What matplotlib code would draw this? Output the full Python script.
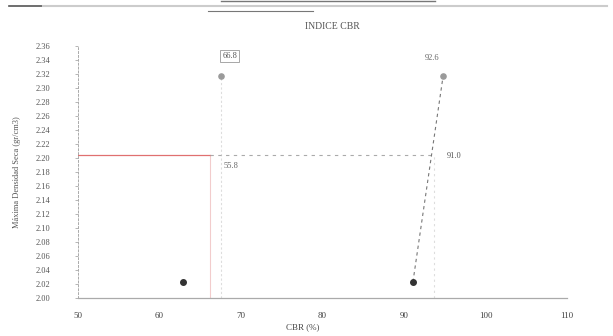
import matplotlib
matplotlib.use("Agg")
import matplotlib.pyplot as plt
import numpy as np

# Data
cbr_left = [62.9, 67.5]        # CBR (%) for low / high density
dens_left = [2.023, 2.317]
cbr_right = [91.1, 94.8]
dens_right = [2.023, 2.317]
density_95 = 2.204             # reference density (red line)
cross_left = 66.2
cross_right = 93.4
label_texts = ["66.8", "55.8", "92.6", "91.0"]
x_ticks = [50, 60, 70, 80, 90, 100, 110]
y_ticks = np.round(np.arange(2.00, 2.361, 0.02), 2)

plt.rcParams['font.family'] = ['Liberation Serif', 'DejaVu Serif']

fig = plt.figure(figsize=(6.13, 3.36), dpi=100)
ax = fig.add_axes([0.127, 0.113, 0.798, 0.75])

# header artefacts of the scanned document
fig.add_artist(plt.Line2D([0.015, 0.07], [0.982, 0.982], color="#555555", lw=1.2))
fig.add_artist(plt.Line2D([0.07, 0.99], [0.982, 0.982], color="#cccccc", lw=1.5))
fig.add_artist(plt.Line2D([0.36, 0.71], [0.998, 0.998], color="#777777", lw=1.0))
fig.add_artist(plt.Line2D([0.34, 0.51], [0.968, 0.968], color="#777777", lw=0.8))

# left construction
ax.plot([cbr_left[1], cbr_left[1]], [2.00, dens_left[1]], color="#dddddd", lw=0.8, ls=(0, (2, 2)))
ax.plot([cross_left, cross_left], [2.00, density_95], color="#f2cccc", lw=0.8)

# reference density line
ax.plot([50, cross_left], [density_95, density_95], color="#e07070", lw=0.9)
ax.plot([cross_left, cross_right], [density_95, density_95], color="#aaaaaa", lw=0.8, ls=(0, (3, 4)))

# right construction
ax.plot(cbr_right, dens_right, color="#777777", lw=0.8, ls=(0, (3, 3)))
ax.plot([cross_right + 0.3, cross_right + 0.3], [2.00, density_95], color="#dddddd", lw=0.8, ls=(0, (2, 3)))

# points
ax.scatter([cbr_left[0], cbr_right[0]], [dens_left[0], dens_right[0]], s=16, color="#333333", zorder=5)
ax.scatter([cbr_left[1], cbr_right[1]], [dens_left[1], dens_right[1]], s=14, color="#9a9a9a", zorder=5)

# labels
ax.text(cbr_left[1] + 0.2, 2.343, label_texts[0], fontsize=6, color="#555555",
        bbox=dict(boxstyle="square,pad=0.2", fc="white", ec="#999999", lw=0.6))
ax.text(cross_left + 1.7, 2.186, label_texts[1], fontsize=6, color="#666666")
ax.text(cbr_right[1] - 2.2, 2.340, label_texts[2], fontsize=6, color="#666666")
ax.text(cross_right + 1.8, 2.200, label_texts[3], fontsize=6, color="#555555")

ax.set_xlim(50, 110)
ax.set_ylim(2.00, 2.36)
ax.set_xticks(x_ticks)
ax.set_xticklabels([str(v) for v in x_ticks], fontsize=6.5, color="#444444")
ax.set_yticks(y_ticks)
ax.set_yticklabels([f"{v:.2f}" for v in y_ticks], fontsize=6, color="#555555")
ax.tick_params(axis="x", length=0, pad=10)
ax.tick_params(axis="y", length=2, width=0.5, color="#999999", pad=18)

for s in ["top", "right"]:
    ax.spines[s].set_visible(False)
ax.spines["left"].set_color("#aaaaaa")
ax.spines["left"].set_linestyle((0, (2, 2)))
ax.spines["left"].set_linewidth(0.7)
ax.spines["bottom"].set_color("#aaaaaa")
ax.spines["bottom"].set_linewidth(0.9)

ax.set_title("INDICE CBR", fontsize=7, color="#555555", pad=12, x=0.52)
ax.set_xlabel("CBR (%)", fontsize=6.5, color="#444444", labelpad=6)
ax.xaxis.set_label_coords(0.46, -0.1)
ax.set_ylabel("Máxima Densidad Seca (gr/cm3)", fontsize=6, color="#555555", labelpad=10)

fig.savefig("out.png", dpi=100)
